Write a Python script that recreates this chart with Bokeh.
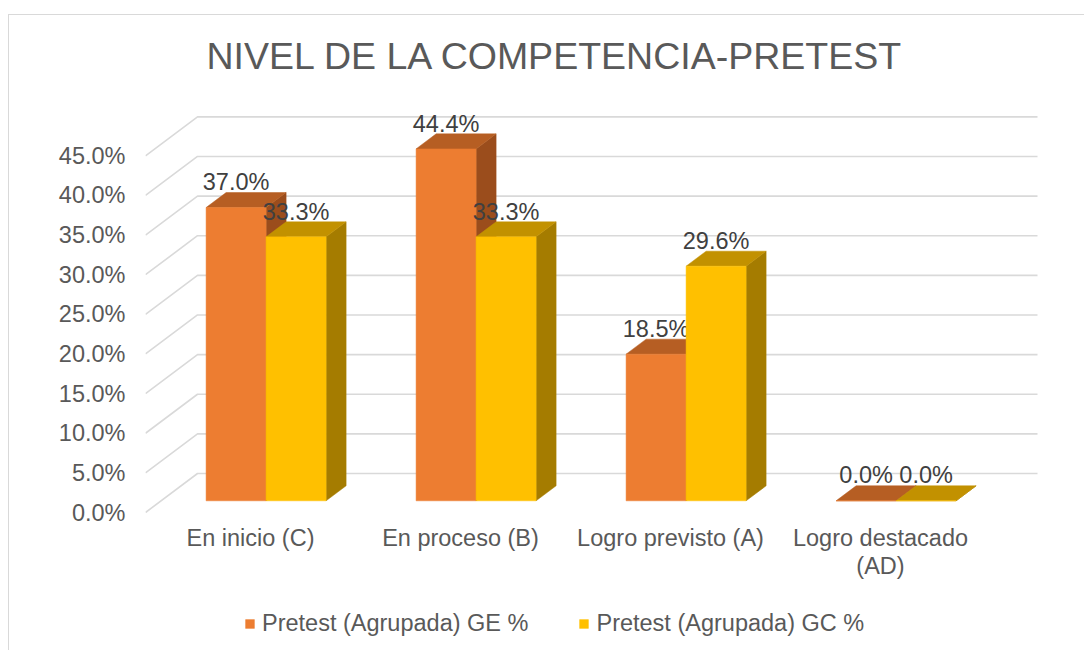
from bokeh.plotting import figure
from bokeh.models import (Range1d, FixedTicker, PrintfTickFormatter, Legend, LegendItem,
                          LinearAxis)
from bokeh.embed import file_html
from bokeh.resources import INLINE
from bokeh.core.properties import value

# ---------------- data ----------------
categories = ["En inicio (C)", "En proceso (B)", "Logro previsto (A)", "Logro destacado\n(AD)"]
series_names = ["Pretest (Agrupada) GE %", "Pretest (Agrupada) GC %"]
ge_values = [37.0, 44.4, 18.5, 0.0]
gc_values = [33.3, 33.3, 29.6, 0.0]
y_ticks = [0, 5, 10, 15, 20, 25, 30, 35, 40, 45]
title_text = "NIVEL DE LA COMPETENCIA-PRETEST"

# ---------------- styling / geometry ----------------
FONT = "Liberation Sans"
PX_X = 210.0          # pixels per category
PX_Y = 7.926          # pixels per percent
DX = 52.0 / PX_X      # full floor depth, x (data units)
DY = 39.0 / PX_Y      # full floor depth, y (data units)
T0, T1 = 0.30, 0.685  # bar depth position (fraction of floor depth)
BAR_W = 60.0 / PX_X
LABEL_LIFT = 1.3      # data-label lift above the bar's back top edge
GRID_COLOR = "#D9D9D9"
TEXT_COLOR = "#595959"
LABEL_COLOR = "#404040"
colors = {
    "ge": ("#ED7D31", "#B65E23", "#9B4D1C"),
    "gc": ("#FFC000", "#C29100", "#A57C00"),
}

W, H = 1076, 636
ML, MR, MT, MB = 136, 0, 78, 0
ZERO_FROM_TOP = 419   # pixels from frame top to the 0% level of the front plane
frame_w = W - ML - MR
frame_h = H - MT - MB

p = figure(width=W, height=H, output_backend="svg", toolbar_location=None,
           x_range=Range1d(0, frame_w / PX_X),
           y_range=Range1d(-(frame_h - ZERO_FROM_TOP) / PX_Y, ZERO_FROM_TOP / PX_Y),
           min_border_left=ML, min_border_right=MR, min_border_top=MT, min_border_bottom=MB,
           x_axis_type=None, y_axis_type=None)
p.styles = {"border-top": "1px solid #D9D9D9", "border-left": "1px solid #D9D9D9",
            "margin-top": "14px", "margin-left": "8px"}
p.outline_line_color = None
p.background_fill_color = "white"
p.border_fill_color = "white"
p.grid.visible = False

# title
p.title.text = title_text
p.title.text_font = FONT
p.title.text_font_size = "37.5px"
p.title.text_font_style = "normal"
p.title.text_color = TEXT_COLOR
p.title.align = "left"
p.title.offset = 61
p.title.vertical_align = "top"
p.title.standoff = 29

# axes
yax = LinearAxis(ticker=FixedTicker(ticks=y_ticks),
                 formatter=PrintfTickFormatter(format="%.1f%%"))
yax.axis_line_color = None
yax.major_tick_line_color = None
yax.minor_tick_line_color = None
yax.major_label_standoff = 14
yax.major_label_text_font = FONT
yax.major_label_text_font_size = "23.5px"
yax.major_label_text_color = TEXT_COLOR
p.add_layout(yax, "left")

cat_pos = [i + 0.5 for i in range(len(categories))]
xax = LinearAxis(ticker=FixedTicker(ticks=cat_pos), fixed_location=0,
                 major_label_overrides={pos: lab for pos, lab in zip(cat_pos, categories)})
xax.axis_line_color = None
xax.major_tick_line_color = None
xax.minor_tick_line_color = None
xax.major_label_standoff = 6
xax.major_label_text_font = FONT
xax.major_label_text_font_size = "23.5px"
xax.major_label_text_line_height = 1.08
xax.major_label_text_color = TEXT_COLOR
p.add_layout(xax, "below")

# gridlines: back wall + floor-side diagonals
n = len(categories)
gx, gy = [], []
for t in y_ticks:
    gx.append([0, DX, n + DX])
    gy.append([t, t + DY, t + DY])
p.multi_line(gx, gy, line_color=GRID_COLOR, line_width=1.6)

# bars
legend_items = []
for s, (vals, key) in enumerate([(ge_values, "ge"), (gc_values, "gc")]):
    front_c, top_c, side_c = colors[key]
    bdx, bdy = (T1 - T0) * DX, (T1 - T0) * DY
    x0s, x1s, bases, tops = [], [], [], []
    side_xs, side_ys, top_xs, top_ys = [], [], [], []
    for i, v in enumerate(vals):
        c = i + 0.5 + T0 * DX
        x0 = c - BAR_W + s * BAR_W
        x1 = x0 + BAR_W
        base = T0 * DY
        top = v + base
        x0s.append(x0); x1s.append(x1); bases.append(base); tops.append(top)
        side_xs.append([x1, x1 + bdx, x1 + bdx, x1])
        side_ys.append([base, base + bdy, top + bdy, top])
        top_xs.append([x0, x1, x1 + bdx, x0 + bdx])
        top_ys.append([top, top, top + bdy, top + bdy])
    p.patches(side_xs, side_ys, fill_color=side_c, line_color=side_c, line_width=0.5)
    p.patches(top_xs, top_ys, fill_color=top_c, line_color=top_c, line_width=0.5)
    fr = p.quad(left=x0s, right=x1s, bottom=bases, top=tops,
                fill_color=front_c, line_color=front_c, line_width=0.5)
    legend_items.append(LegendItem(label=series_names[s], renderers=[fr]))
    # data labels
    lx = [(a + b) / 2 for a, b in zip(x0s, x1s)]
    ly = [v + T1 * DY + LABEL_LIFT for v in vals]
    p.text(lx, ly, text=[f"{v:.1f}%" for v in vals], text_align="center",
           text_baseline="alphabetic", text_font=value(FONT), text_font_size="23.5px",
           text_color=LABEL_COLOR)

legend = Legend(items=legend_items, orientation="horizontal", location=(99, 14))
legend.glyph_width = 11
legend.glyph_height = 11
legend.label_standoff = 7
legend.spacing = 50
legend.padding = 0
legend.margin = 0
legend.border_line_color = None
legend.background_fill_alpha = 0
legend.label_text_font = FONT
legend.label_text_font_size = "23.5px"
legend.label_text_color = TEXT_COLOR
p.add_layout(legend, "center")

open("out.html", "w").write(file_html(p, INLINE))
